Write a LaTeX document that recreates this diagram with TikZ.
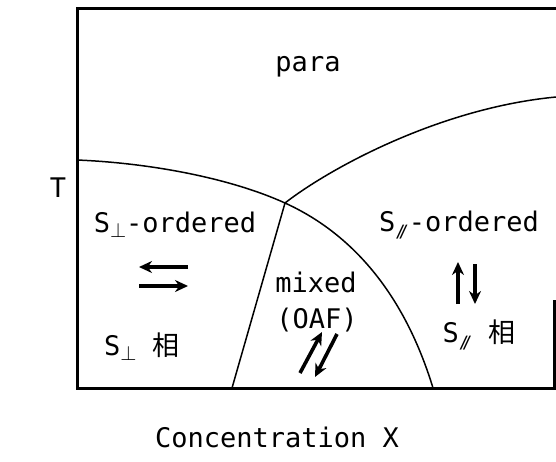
\documentclass[tikz,border=0pt]{standalone}
\usepackage{fontspec}
\setmainfont{DejaVu Sans Mono}
\newfontfamily\cjkfont{Noto Sans CJK JP}
\usetikzlibrary{arrows.meta}
\newcommand{\subperp}{\raisebox{-5pt}{\fontsize{21}{21}\selectfont$\perp$}}
\newcommand{\subpar}{\raisebox{-6pt}{\fontsize{17}{17}\selectfont /\kern-7pt/}}

\begin{document}
\begin{tikzpicture}[x=1pt, y=-1pt,
    region/.style={font=\fontsize{27}{30}\selectfont, inner sep=0pt},
    bound/.style={line width=1.5pt},
    frame/.style={line width=3pt},
    spin/.style={-{Stealth[length=13pt, width=12pt]}, line width=3.6pt},
]
\useasboundingbox (0,0) rectangle (556,461);

% frame of the diagram
\draw[frame] (554,300) -- (554,388) -- (77,388) -- (77,8) -- (556,8);

% phase boundaries
\coordinate (junc) at (285,203);
\draw[bound] (77,160) .. controls (150,163) and (230,178) .. (junc);
\draw[bound] (junc) .. controls (340,228) and (400,280) .. (433,388);
\draw[bound] (junc) .. controls (330,168) and (440,108) .. (556,97);
\draw[bound] (junc) -- (232,388);

% phase labels
\node[region] (para) at (308,67) {para};
\node[region] (perpord) at (175,225) {S\subperp-ordered};
\node[region] (parord) at (459,225) {S\subpar-ordered};
\node[region] (mixed) at (316,282) {mixed};
\node[region] (oaf) at (317,320) {(OAF)};
\node[region] (perpphase) at (142,347) {S\subperp\ {\cjkfont 相}};
\node[region] (parphase) at (479,335) {S\subpar\ {\cjkfont 相}};

% spin directions
\draw[spin] (188,267) -- (139,267);
\draw[spin] (139,286) -- (188,286);
\draw[spin] (458,304) -- (458,262);
\draw[spin] (475,264) -- (475,304);
\draw[spin] (300,373) -- (322,332);
\draw[spin] (337,334) -- (315,377);

% axes
\node[region] (taxis) at (58,188) {T};
\node[region] (xaxis) at (277,437) {Concentration X};

\end{tikzpicture}
\end{document}
